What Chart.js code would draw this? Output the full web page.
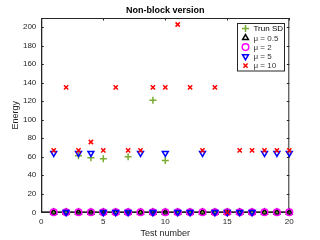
<!DOCTYPE html>
<html>
<head>
<meta charset="utf-8">
<script src="https://cdn.jsdelivr.net/npm/chart.js@4/dist/chart.umd.min.js"></script>
<style>
  html, body { margin: 0; padding: 0; background: #fff; }
  #wrap { width: 320px; height: 240px; }
</style>
</head>
<body>
<div id="wrap"><canvas id="c" width="320" height="240"></canvas></div>
<script>
// data
const testNumbers = [1, 2, 3, 4, 5, 6, 7, 8, 9, 10, 11, 12, 13, 14, 15, 16, 17, 18, 19, 20];
const trunSD = [0, 0, 61, 59, 58, 0, 60, 0, 121, 56, 0, 0, 0, 0, 0, 0, 0, 0, 0, 0];
const mu05 = [0, 0, 0, 0, 0, 0, 0, 0, 0, 0, 0, 0, 0, 0, 0, 0, 0, 0, 0, 0];
const mu2 = [0, 0, 0, 0, 0, 0, 0, 0, 0, 0, 0, 0, 0, 0, 0, 0, 0, 0, 0, 0];
const mu5 = [64, 0, 64, 64, 0, 0, 0, 64, 0, 64, 0, 0, 64, 0, 0, 0, 0, 64, 64, 64];
const mu10 = [67, 135, 67, 76, 67, 135, 67, 67, 135, 135, 203, 135, 67, 135, 0, 67, 67, 67, 67, 67];

const xTicks = [0, 5, 10, 15, 20];
const yTicks = [0, 20, 40, 60, 80, 100, 120, 140, 160, 180, 200];
const seriesNames = ["Trun SD", "\u03bc = 0.5", "\u03bc = 2", "\u03bc = 5", "\u03bc = 10"];

const axisColor = "#262626";
const fontFamily = "'Liberation Sans', Arial, sans-serif";

const toPoints = (vals) => vals.map((v, i) => ({ x: testNumbers[i], y: v }));

const series = [
  { label: seriesNames[0], data: toPoints(trunSD), color: "#77ac30", style: "cross", r: 3.5, rot: 0 },
  { label: seriesNames[1], data: toPoints(mu05), color: "#000000", style: "triangle", r: 3.3, rot: 0 },
  { label: seriesNames[2], data: toPoints(mu2), color: "#ff00ff", style: "circle", r: 3.3, rot: 0 },
  { label: seriesNames[3], data: toPoints(mu5), color: "#0000ff", style: "triangle", r: 3.4, rot: 180 },
  { label: seriesNames[4], data: toPoints(mu10), color: "#ff0000", style: "crossRot", r: 3, rot: 0 }
];

// boxed axes, inward ticks, title and legend the way MATLAB draws them
const matlabDecor = {
  id: "matlabDecor",
  beforeDatasetsDraw(chart) {
    const { ctx, chartArea: a } = chart;
    ctx.save();
    ctx.strokeStyle = axisColor;
    ctx.lineWidth = 1;
    ctx.strokeRect(a.left + 0.5, a.top + 0.5, a.right - a.left - 1, a.bottom - a.top - 1);
    ctx.restore();
  },
  afterDraw(chart) {
    const { ctx, chartArea: a, scales } = chart;
    ctx.save();
    ctx.strokeStyle = axisColor;
    ctx.lineWidth = 1;
    const tl = 2.5;
    ctx.beginPath();
    xTicks.forEach(t => {
      const px = Math.round(scales.x.getPixelForValue(t)) + 0.5;
      ctx.moveTo(px, a.bottom); ctx.lineTo(px, a.bottom - tl);
      ctx.moveTo(px, a.top); ctx.lineTo(px, a.top + tl);
    });
    yTicks.forEach(t => {
      const py = Math.round(scales.y.getPixelForValue(t)) + 0.5;
      ctx.moveTo(a.left, py); ctx.lineTo(a.left + tl, py);
      ctx.moveTo(a.right, py); ctx.lineTo(a.right - tl, py);
    });
    ctx.stroke();

    // title
    ctx.fillStyle = "#000";
    ctx.font = "bold 9px " + fontFamily;
    ctx.textAlign = "center";
    ctx.textBaseline = "middle";
    ctx.fillText("Non-block version", (a.left + a.right) / 2, 11);

    // legend
    const bx = 237.5, by = 23.5, bw = 47, bh = 47.5;
    ctx.fillStyle = "#fff";
    ctx.fillRect(bx, by, bw, bh);
    ctx.strokeStyle = "#262626";
    ctx.strokeRect(bx, by, bw, bh);
    ctx.font = "8px " + fontFamily;
    ctx.textAlign = "left";
    series.forEach((s, i) => {
      const yy = by + 5 + i * 9.3;
      ctx.strokeStyle = s.color;
      ctx.fillStyle = "rgba(0,0,0,0)";
      ctx.lineWidth = 1.5;
      Chart.helpers.drawPoint(ctx, { pointStyle: s.style, radius: s.r, rotation: s.rot, borderWidth: 1.5 }, bx + 8, yy);
      ctx.fillStyle = i === 0 ? "#000" : "#333";
      ctx.fillText(s.label, bx + 16, yy + 0.5);
    });
    ctx.restore();
  }
};

new Chart(document.getElementById("c"), {
  type: "scatter",
  data: {
    datasets: series.map((s, i) => ({
      label: s.label,
      data: s.data,
      order: series.length - i,
      clip: false,
      pointStyle: s.style,
      pointRadius: s.r,
      pointRotation: s.rot,
      pointBorderWidth: 1.5,
      borderColor: s.color,
      backgroundColor: "rgba(0,0,0,0)",
      showLine: false
    }))
  },
  options: {
    responsive: false,
    animation: false,
    layout: { padding: { top: 18, right: 30.7, left: 0, bottom: 0 } },
    plugins: {
      legend: { display: false },
      title: { display: false },
      tooltip: { enabled: false }
    },
    scales: {
      x: {
        type: "linear",
        min: 0,
        max: 20,
        afterFit: (scale) => { scale.height = 27.7; },
        afterBuildTicks: (scale) => { scale.ticks = xTicks.map(v => ({ value: v })); },
        grid: { display: false, drawTicks: false },
        border: { display: true, color: axisColor },
        ticks: { color: axisColor, font: { size: 8, family: fontFamily }, padding: 5, maxRotation: 0 },
        title: { display: true, text: "Test number", color: axisColor, font: { size: 9, family: fontFamily }, padding: { top: 0, bottom: 1 } }
      },
      y: {
        type: "linear",
        min: 0,
        max: 210,
        afterFit: (scale) => { scale.width = 41.3; },
        afterBuildTicks: (scale) => { scale.ticks = yTicks.map(v => ({ value: v })); },
        grid: { display: false, drawTicks: false },
        border: { display: true, color: axisColor },
        ticks: { color: axisColor, font: { size: 8, family: fontFamily }, padding: 5 },
        title: { display: true, text: "Energy", color: axisColor, font: { size: 9, family: fontFamily }, padding: { top: 10, bottom: 0 } }
      }
    }
  },
  plugins: [matlabDecor]
});
</script>
</body>
</html>
